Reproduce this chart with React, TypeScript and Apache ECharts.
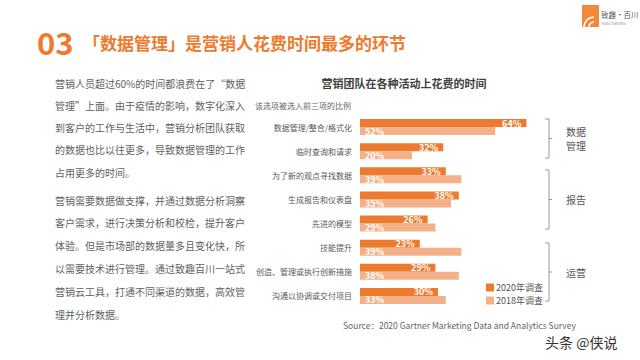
import React, { useEffect, useRef } from "react";
import * as echarts from "echarts";

const categories = [
  "数据管理/整合/格式化",
  "临时查询和请求",
  "为了新的观点寻找数据",
  "生成报告和仪表盘",
  "先进的模型",
  "技能提升",
  "创造、管理或执行创新措施",
  "沟通以协调或交付项目",
];
const values2020 = [64, 32, 33, 38, 26, 23, 29, 30];
const values2018 = [52, 20, 39, 35, 29, 39, 38, 33];
const seriesNames = ["2020年调查", "2018年调查"];
const groupLabels = [["数据", "管理"], ["报告"], ["运营"]];
const para1 = [
  "营销人员超过60%的时间都浪费在了“数据",
  "管理”上面。由于疫情的影响，数字化深入",
  "到客户的工作与生活中，营销分析团队获取",
  "的数据也比以往更多，导致数据管理的工作",
  "占用更多的时间。",
];
const para2 = [
  "营销需要数据做支撑，并通过数据分析洞察",
  "客户需求，进行决策分析和校检，提升客户",
  "体验。但是市场部的数据量多且变化快，所",
  "以需要技术进行管理。通过致趣百川一站式",
  "营销云工具，打通不同渠道的数据，高效管",
  "理并分析数据。",
];

const FONT = "'Noto Sans CJK SC', 'Noto Sans', sans-serif";
const ORANGE = "#EE7A2E";
const LIGHT = "#F4B088";

export default function App() {
  const ref = useRef<HTMLDivElement>(null);
  useEffect(() => {
    if (!ref.current) return;
    const chart = echarts.init(ref.current, undefined, { renderer: "svg" });
    const graphics: any[] = [];
    graphics.push({
      type: "text", left: 37, top: 26,
      style: { text: "03", fill: ORANGE, font: `bold 31px ${FONT}` },
    });
    graphics.push({
      type: "text", left: 83, top: 34,
      style: { text: "「数据管理」是营销人花费时间最多的环节", fill: ORANGE, font: `bold 17px ${FONT}` },
    });
    // logo
    graphics.push({ type: "rect", shape: { x: 582, y: 5, width: 17, height: 22 }, style: { fill: "#F08A3A" } });
    graphics.push({ type: "arc", shape: { cx: 594, cy: 27, r: 10, startAngle: Math.PI, endAngle: Math.PI * 1.5 }, style: { stroke: "#fff", lineWidth: 1.5, fill: "none" } });
    graphics.push({ type: "arc", shape: { cx: 594, cy: 27, r: 5, startAngle: Math.PI, endAngle: Math.PI * 1.5 }, style: { stroke: "#fff", lineWidth: 1.5, fill: "none" } });
    graphics.push({ type: "text", x: 601, y: 14, style: { text: "致趣·百川", fill: "#555", font: `7.5px ${FONT}`, verticalAlign: "middle" } });
    graphics.push({ type: "text", x: 602, y: 23, style: { text: "BesChannels", fill: "#999", font: `4px ${FONT}`, verticalAlign: "middle" } });

    para1.forEach((t, i) => {
      graphics.push({ type: "text", x: 55, y: 83 + i * 22.3, style: { text: t, fill: "#5f5f5f", font: `10px ${FONT}`, verticalAlign: "middle" } });
    });
    para2.forEach((t, i) => {
      graphics.push({ type: "text", x: 55, y: 200 + i * 22.8, style: { text: t, fill: "#5f5f5f", font: `10px ${FONT}`, verticalAlign: "middle" } });
    });

    graphics.push({ type: "text", x: 404, y: 83, style: { text: "营销团队在各种活动上花费的时间", fill: "#404040", font: `bold 11px ${FONT}`, align: "center", verticalAlign: "middle" } });
    graphics.push({ type: "text", x: 255, y: 105, style: { text: "该选项被选入前三项的比例", fill: "#666", font: `8px ${FONT}`, verticalAlign: "middle" } });

    const brackets = [[119, 158], [170, 229], [243, 301]];
    brackets.forEach(([a, b], i) => {
      graphics.push({ type: "polyline", shape: { points: [[545, a], [549, a], [549, b], [545, b]] }, style: { stroke: "#999", lineWidth: 1, fill: "none" } });
      const m = (a + b) / 2;
      graphics.push({ type: "line", shape: { x1: 549, y1: m, x2: 552, y2: m }, style: { stroke: "#999", lineWidth: 1 } });
      const lines = groupLabels[i];
      lines.forEach((t, j) => {
        graphics.push({ type: "text", x: 566, y: m - (lines.length - 1) * 7 + j * 14, style: { text: t, fill: "#555", font: `10px ${FONT}`, verticalAlign: "middle" } });
      });
    });

    graphics.push({ type: "text", x: 343, y: 325, style: { text: "Source：2020 Gartner Marketing Data and Analytics Survey", fill: "#666", font: `8.5px ${FONT}`, verticalAlign: "middle" } });
    graphics.push({ type: "text", x: 545, y: 342, style: { text: "头条 @侠说", fill: "#333", font: `14px ${FONT}`, verticalAlign: "middle" } });

    chart.setOption({
      animation: false,
      backgroundColor: "#fff",
      textStyle: { fontFamily: FONT },
      grid: { left: 360, top: 115, width: 260, height: 193, containLabel: false },
      legend: {
        data: seriesNames,
        orient: "vertical",
        left: 486, top: 283,
        itemWidth: 8, itemHeight: 8, itemGap: 4,
        icon: "rect",
        textStyle: { fontSize: 9, color: "#555", padding: [0, 0, 0, -3] },
        padding: 0,
      },
      xAxis: { type: "value", min: 0, max: 100, show: false },
      yAxis: {
        type: "category", data: categories, inverse: true,
        axisLine: { show: false }, axisTick: { show: false },
        axisLabel: { fontSize: 8, color: "#595959", margin: 8 },
      },
      series: [
        {
          name: seriesNames[0], type: "bar", data: values2020, barWidth: 8, barGap: "0%",
          itemStyle: { color: ORANGE },
          label: { show: true, position: "insideRight", formatter: "{c}%", color: "#fff", fontSize: 9, fontWeight: "bold" },
        },
        {
          name: seriesNames[1], type: "bar", data: values2018, barWidth: 8, barGap: "0%",
          itemStyle: { color: LIGHT },
          label: { show: true, position: "insideLeft", formatter: "{c}%", color: "#fff", fontSize: 9, fontWeight: "bold" },
        },
      ],
      graphic: graphics,
    });
    return () => chart.dispose();
  }, []);
  return <div ref={ref} style={{ width: 640, height: 360, position: "absolute", left: 0, top: 0 }} />;
}
